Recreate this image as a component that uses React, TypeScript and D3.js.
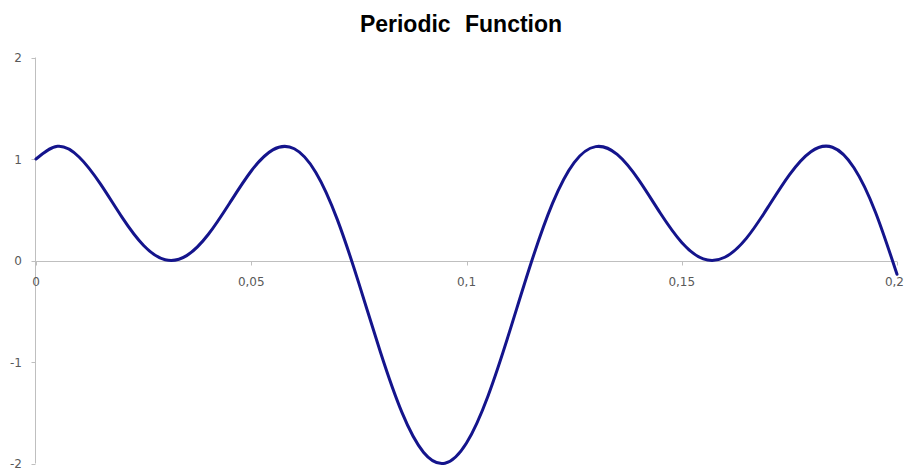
import React from "react";
import * as d3 from "d3";

// Sampled values of the periodic signal (time in seconds)
const times: number[] = [
  0, 0.005, 0.01, 0.015, 0.02, 0.025, 0.03, 0.035, 0.04, 0.045,
  0.05, 0.055, 0.06, 0.065, 0.07, 0.075, 0.08, 0.085, 0.09, 0.095,
  0.1, 0.105, 0.11, 0.115, 0.12, 0.125, 0.13, 0.135, 0.14, 0.145,
  0.15, 0.155, 0.16, 0.165, 0.17, 0.175, 0.18, 0.185, 0.19, 0.195, 0.2,
];
const values: number[] = [
  1.0, 1.125, 1.02, 0.752, 0.425, 0.148, 0.008, 0.048, 0.256, 0.567,
  0.882, 1.09, 1.101, 0.868, 0.403, -0.225, -0.902, -1.497, -1.889, -1.997,
  -1.798, -1.334, -0.701, -0.025, 0.565, 0.965, 1.122, 1.045, 0.794, 0.468,
  0.178, 0.016, 0.032, 0.218, 0.523, 0.844, 1.072, 1.116, 0.914, 0.476, -0.136,
];

const xTicks: number[] = [0, 0.05, 0.1, 0.15, 0.2];
const xTickLabels: string[] = ["0", "0,05", "0,1", "0,15", "0,2"];
const yTicks: number[] = [-2, -1, 0, 1, 2];

const title = "Periodic Function";

const WIDTH = 905;
const HEIGHT = 470;

export default function App() {
  const x = d3.scaleLinear().domain([0, 0.2]).range([36, 897]);
  const y = d3.scaleLinear().domain([-2, 2]).range([463.5, 57.5]);

  const points: [number, number][] = times.map((t, i) => [t, values[i]]);
  const line = d3
    .line<[number, number]>()
    .x((d) => x(d[0]))
    .y((d) => y(d[1]))
    .curve(d3.curveNatural);

  const axisColor = "#bfbfbf";
  const labelColor = "#595959";
  const labelFont = "'DejaVu Sans', sans-serif";
  const x0 = Math.round(x(0)) - 0.5;
  const y0 = Math.round(y(0)) + 0.5;

  return (
    <svg
      width={WIDTH}
      height={HEIGHT}
      style={{ position: "absolute", left: 0, top: 0, background: "#fff" }}
    >
      <text
        x={461}
        y={32}
        textAnchor="middle"
        fontFamily="'Liberation Sans', Arial, sans-serif"
        fontWeight="bold"
        fontSize={23}
        wordSpacing={8}
        fill="#000"
      >
        {title}
      </text>

      {/* vertical axis */}
      <line x1={x0} x2={x0} y1={y(2)} y2={y(-2)} stroke={axisColor} strokeWidth={1} />
      {yTicks.map((v) => (
        <g key={`y${v}`}>
          <line
            x1={x0 - 4}
            x2={x0}
            y1={Math.round(y(v)) + 0.5}
            y2={Math.round(y(v)) + 0.5}
            stroke={axisColor}
          />
          <text
            x={22}
            y={y(v) + 4.5}
            textAnchor="end"
            fontFamily={labelFont}
            fontSize={12}
            fill={labelColor}
          >
            {v}
          </text>
        </g>
      ))}

      {/* horizontal axis at zero */}
      <line x1={x(0)} x2={x(0.2)} y1={y0} y2={y0} stroke={axisColor} strokeWidth={1} />
      {xTicks.map((t, i) => {
        const last = i === xTicks.length - 1;
        return (
          <g key={`x${t}`}>
            <line
              x1={Math.round(x(t)) + 0.5}
              x2={Math.round(x(t)) + 0.5}
              y1={y0}
              y2={y0 + 4}
              stroke={axisColor}
            />
            <text
              x={last ? WIDTH - 1 : x(t)}
              y={286}
              textAnchor={last ? "end" : "middle"}
              fontFamily={labelFont}
              fontSize={12}
              fill={labelColor}
            >
              {xTickLabels[i]}
            </text>
          </g>
        );
      })}

      <path
        d={line(points) ?? ""}
        fill="none"
        stroke="#14148c"
        strokeWidth={3}
        strokeLinejoin="round"
        strokeLinecap="round"
      />
    </svg>
  );
}
